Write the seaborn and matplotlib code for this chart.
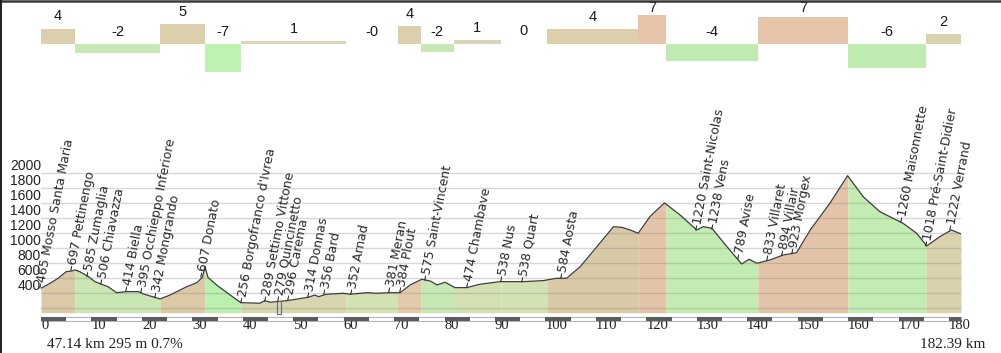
import numpy as np
import matplotlib
matplotlib.use("Agg")
import matplotlib.pyplot as plt
import seaborn as sns
from matplotlib.lines import Line2D
from matplotlib.patches import Rectangle

# ---------------- data ----------------
dist_km = [0.0, 1.8, 3.4, 5.0, 6.1, 6.7, 7.7, 9.4, 10.7, 12.0, 13.3, 15.0, 17.0, 19.3,
           20.3, 23.6, 25.6, 28.9, 30.9, 32.0, 32.5, 33.1, 34.8, 37.5, 39.6, 43.4,
           44.4, 45.4, 48.7, 53.0, 54.3, 55.0, 56.6, 59.9, 61.3, 64.6, 66.6, 69.2,
           71.2, 73.2, 75.5, 77.3, 78.5, 80.1, 82.1, 84.4, 87.0, 91.0, 95.6, 99.6,
           102.2, 104.2, 106.9, 110.2, 113.5, 115.1, 116.8, 118.4, 120.7, 123.6,
           126.7, 130.0, 131.3, 133.0, 136.0, 138.9, 140.4, 141.9, 144.5, 147.2,
           149.8, 152.5, 156.4, 159.9, 163.0, 166.3, 170.9, 173.6, 175.6, 178.2,
           180.5, 182.39]
elev_m = [467, 533, 600, 688, 697, 711, 688, 622, 555, 520, 488, 408, 422, 422,
          391, 324, 377, 488, 541, 613, 755, 613, 511, 377, 275, 267,
          301, 280, 301, 347, 377, 355, 387, 400, 387, 408, 400, 408,
          408, 511, 587, 560, 511, 547, 475, 475, 520, 555, 555, 569,
          600, 600, 755, 1021, 1288, 1280, 1244, 1200, 1421, 1605,
          1444, 1244, 1288, 1267, 1021, 791, 853, 800, 844, 911,
          941, 1244, 1600, 1968, 1688, 1488, 1333, 1200, 1031, 1155,
          1244, 1191]

seg_bounds_km = [0, 6.74, 23.59, 32.51, 39.65, 60.47, 70.68, 75.34, 81.78, 91.2,
                 100.3, 118.4, 123.9, 142.1, 159.99, 175.5, 182.39]
seg_grade = [3.7, -2.3, 4.9, -7.1, 0.6, -0.2, 4.4, -2.1, 0.8, 0.1, 3.6, 7.2,
             -4.4, 6.6, -6.1, 2.3]

place_km = [0.0, 6.1, 9.3, 12.1, 17.0, 20.0, 22.8, 31.9, 39.8, 44.6, 47.0, 49.0,
            53.1, 56.3, 61.5, 69.2, 71.2, 76.3, 84.5, 91.4, 95.4, 103.3, 130.0,
            133.2, 138.2, 144.1, 147.1, 149.1, 170.7, 175.6, 180.4]
place_elev = [465, 697, 585, 506, 414, 395, 342, 607, 256, 289, 279, 296, 314, 356,
              352, 381, 384, 575, 474, 538, 538, 584, 1220, 1238, 789, 833, 894,
              923, 1260, 1018, 1222]
place_name = ["Mosso Santa Maria", "Pettinengo", "Zumaglia", "Chiavazza", "Biella",
              "Occhieppo Inferiore", "Mongrando", "Donato", "Borgofranco d'Ivrea",
              "Settimo Vittone", "Quincinetto", "Carema", "Donnas", "Bard", "Arnad",
              "Meran", "Plout", "Saint-Vincent", "Chambave", "Nus", "Quart", "Aosta",
              "Saint-Nicolas", "Vens", "Avise", "Villaret", "Villair", "Morgex",
              "Maisonnette", "Pré-Saint-Didier", "Verrand"]

y_ticks = [200, 400, 600, 800, 1000, 1200, 1400, 1600, 1800, 2000]
x_ticks = list(range(0, 181, 10))
total_km = 182.39
cursor_km, cursor_elev, cursor_grade = 47.14, 295, 0.7

# ---------------- styles ----------------
bar_colors = ['#dccfab', '#c8e7b4', '#dccfab', '#bdf2b1', '#d9d5b6', '#ffffff',
              '#dccfab', '#c8e7b4', '#d9d5b6', '#ffffff', '#dccfab', '#e7c5ab',
              '#c1ecb1', '#e7c5ab', '#c1ecb1', '#dbd3b0']
fill_colors = ['#dccaa7', '#cae6b3', '#dccaa7', '#baf1af', '#d8d6b0', '#d3e2b3',
               '#e2caab', '#c8e8b3', '#d3e0b2', '#d3e2b3', '#dac9a6', '#e4c4a9',
               '#c2ecb1', '#e4c4a9', '#c2ecb1', '#d9d2ad']

sns.set_style("white")
plt.rcParams['font.family'] = ['DejaVu Sans']

W, H = 1001, 353
fig = plt.figure(figsize=(W / 100, H / 100), dpi=100)
fig.patch.set_facecolor('white')

# pixel geometry
x0_px, x1_px = 41, 961
base_px, top_px = 312.7, 150
m_per_px = 200 / 15.0
ymin = 141
ymax = ymin + (base_px - top_px) * m_per_px

ax = fig.add_axes([x0_px / W, (H - base_px) / H, (x1_px - x0_px) / W, (base_px - top_px) / H])
ax.set_xlim(0, total_km)
ax.set_ylim(ymin, ymax)

dist = np.array(dist_km, dtype=float)
elev = np.array(elev_m, dtype=float)

# coloured fills per segment
for i in range(len(seg_grade)):
    b0, b1 = seg_bounds_km[i], seg_bounds_km[i + 1]
    xs = np.unique(np.concatenate([[b0, b1], dist[(dist > b0) & (dist < b1)]]))
    ys = np.interp(xs, dist, elev)
    ax.fill_between(xs, ys, ymin, color=fill_colors[i], lw=0, zorder=1)

sns.lineplot(x=dist, y=elev, ax=ax, color='#3c3c3c', lw=0.9, zorder=3)

# grid
ax.set_yticks(y_ticks)
ax.set_yticklabels(['' if v < 400 else str(v) for v in y_ticks],
                   fontfamily='Liberation Sans', fontsize=10, color='#222222')
for t in ax.get_yticklabels():
    t.set_va('bottom')
ax.yaxis.grid(True, color='#808080', alpha=0.3, lw=1.0)
ax.xaxis.grid(False)
ax.set_axisbelow(False)
ax.set_xticks(x_ticks)
ax.set_xticklabels([str(v) for v in x_ticks], fontfamily='Liberation Serif',
                   fontsize=10.5, color='#222222', ha='left')
ax.tick_params(axis='both', length=0)
ax.tick_params(axis='y', pad=0)
ax.tick_params(axis='x', pad=4.5)
for s in ax.spines.values():
    s.set_visible(False)
ax.set_xlabel('')
ax.set_ylabel('')

# scale bar under the profile
sb_y0 = ymin - 8.0 * m_per_px
sb_h = 3.4 * m_per_px
ax.add_patch(Rectangle((0, sb_y0), total_km, sb_h, facecolor='white',
                       edgecolor='#b4b4b4', lw=0.8, clip_on=False, zorder=2))
for k in range(0, int(total_km) + 1, 10):
    ax.add_patch(Rectangle((k, sb_y0), min(5, total_km - k), sb_h, facecolor='#5c5c5c',
                           edgecolor='none', clip_on=False, zorder=3))

# cursor marker
ax.add_patch(Rectangle((cursor_km - 0.3, ymin - 1.6 * m_per_px), 0.65,
                       cursor_elev - (ymin - 1.6 * m_per_px),
                       facecolor='none', edgecolor='#6a6a6a', lw=0.8, clip_on=False, zorder=4))

# place labels
for km, e, name in zip(place_km, place_elev, place_name):
    y = float(np.interp(km, dist, elev))
    ax.text(km, y, "\u2013" + f"{e} {name}", rotation=79, rotation_mode='anchor',
            ha='left', va='center', fontsize=9, color='#2a2a2a', clip_on=False, zorder=5)

# bottom texts
fig.text(47 / W, 1 - 345 / H, f"{cursor_km:.2f} km {cursor_elev} m {cursor_grade}%",
         fontfamily='Liberation Serif', fontsize=11, color='#222222', ha='left', va='center')
fig.text(985 / W, 1 - 345 / H, f"{total_km:.2f} km",
         fontfamily='Liberation Serif', fontsize=11, color='#222222', ha='right', va='center')

# ---------------- gradient bar strip ----------------
strip_h = 80
base_strip = 43.7
px_per_pct = 4.0
bx = fig.add_axes([x0_px / W, (H - strip_h) / H, (x1_px - x0_px) / W, strip_h / H])
bx.set_xlim(0, total_km)
ylo = -(strip_h - base_strip) / px_per_pct
yhi = base_strip / px_per_pct
bx.set_ylim(ylo, yhi)
starts = np.array(seg_bounds_km[:-1])
widths = np.diff(seg_bounds_km)
bx.bar(starts, seg_grade, width=widths, align='edge', color=bar_colors, lw=0)
for s0, w, g in zip(starts, widths, seg_grade):
    if g >= 0:
        y = min(g + 12.5 / px_per_pct, yhi - 8 / px_per_pct)
    else:
        y = 11.7 / px_per_pct
    bx.text(s0 + w / 2, y, f"{g:.0f}", ha='center', va='center',
            fontfamily='Liberation Sans', fontsize=10.5, color='#1a1a1a', clip_on=False)
bx.axis('off')

# window border
fig.add_artist(Line2D([0, 1], [1 - 1.0 / H, 1 - 1.0 / H], transform=fig.transFigure,
                      color='#3a3a3a', lw=1.8))
fig.add_artist(Line2D([0.8 / W, 0.8 / W], [0, 1], transform=fig.transFigure,
                      color='#1e1e1e', lw=1.4))

fig.savefig("out.png", dpi=100, facecolor='white')
